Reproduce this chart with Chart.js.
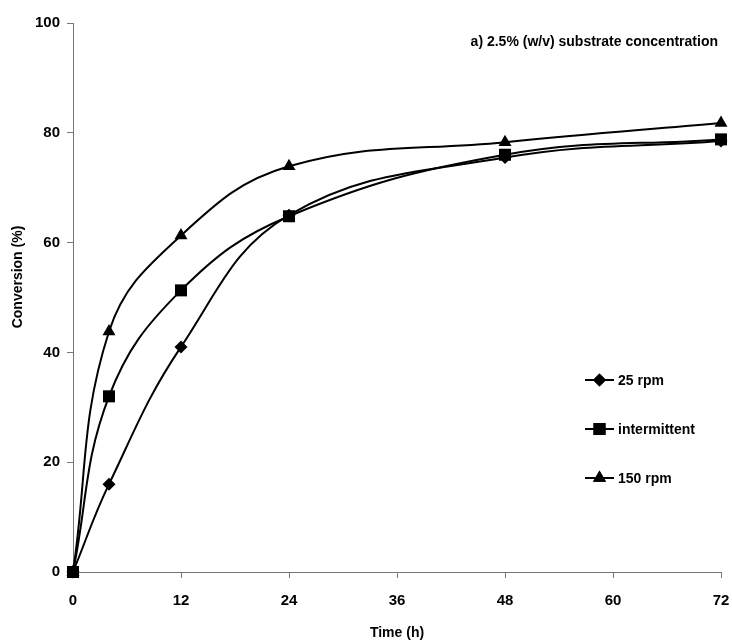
<!DOCTYPE html>
<html>
<head>
<meta charset="utf-8">
<script src="https://cdn.jsdelivr.net/npm/chart.js@4/dist/chart.umd.min.js"></script>
<style>
  html, body { margin: 0; padding: 0; background: #fff; }
  #wrap { width: 732px; height: 644px; }
</style>
</head>
<body>
<div id="wrap"><canvas id="grafico" width="732" height="644"></canvas></div>
<script>
// datos
const tiempoH = [0, 4, 12, 24, 48, 72];
const rpm25 = [0, 16, 41, 65, 75.5, 78.5];
const intermitente = [0, 32, 51.3, 64.8, 76, 78.8];
const rpm150 = [0, 43.8, 61.3, 73.9, 78.3, 81.8];
const etiquetasSeries = ["25 rpm", "intermittent", "150 rpm"];
const ticksX = [0, 12, 24, 36, 48, 60, 72];
const ticksY = [0, 20, 40, 60, 80, 100];
const titulo = "a) 2.5% (w/v) substrate concentration";

const fuente = "'Liberation Sans', Arial, sans-serif";

function puntos(valores) {
    return tiempoH.map((t, i) => ({ x: t, y: valores[i] }));
}

function serie(label, valores, estilo, radio, orden) {
    return {
        label,
        data: puntos(valores),
        order: orden,
        clip: false,
        borderColor: "#000",
        backgroundColor: "#000",
        borderWidth: 2,
        pointStyle: estilo,
        pointRadius: radio,
        pointBackgroundColor: "#000",
        pointBorderColor: "#000",
        pointBorderWidth: 0,
        tension: 0.4,
        fill: false,
    };
}

// leyenda y título dibujados dentro del área
const textosExtra = {
    id: "textosExtra",
    afterDraw(chart) {
        const ctx = chart.ctx;
        const area = chart.chartArea;
        ctx.save();
        ctx.fillStyle = "#000";
        ctx.font = "bold 14px " + fuente;
        ctx.textAlign = "right";
        ctx.textBaseline = "middle";
        ctx.fillText(titulo, 718, area.top + 19);

        // título del eje Y
        ctx.save();
        ctx.translate(18, 277);
        ctx.rotate(-Math.PI / 2);
        ctx.textAlign = "center";
        ctx.font = "bold 14px " + fuente;
        ctx.fillText("Conversion (%)", 0, 0);
        ctx.restore();

        const ys = [380, 429, 478];
        etiquetasSeries.forEach((nombre, i) => {
            const ds = chart.data.datasets.find((d) => d.label === nombre);
            const y = ys[i];
            ctx.strokeStyle = "#000";
            ctx.lineWidth = 2;
            ctx.beginPath();
            ctx.moveTo(585, y);
            ctx.lineTo(614, y);
            ctx.stroke();
            Chart.helpers.drawPoint(ctx, {
                pointStyle: ds.pointStyle,
                radius: ds.pointRadius,
                rotation: 0,
                borderWidth: 0,
            }, 599.5, y);
            ctx.fill();
            ctx.textAlign = "left";
            ctx.font = "bold 14px " + fuente;
            ctx.fillText(nombre, 618, y + 1);
        });
        ctx.restore();
    },
};

const ctx = document.getElementById("grafico").getContext("2d");

new Chart(ctx, {
    type: "line",
    data: {
        datasets: [
            serie(etiquetasSeries[0], rpm25, "rectRot", 6.5, 2),
            serie(etiquetasSeries[1], intermitente, "rect", 8.5, 0),
            serie(etiquetasSeries[2], rpm150, "triangle", 7.5, 1),
        ],
    },
    options: {
        responsive: false,
        animation: false,
        layout: { padding: { top: 23, right: 11, left: 0, bottom: 0 } },
        plugins: {
            legend: { display: false },
            tooltip: { enabled: false },
        },
        scales: {
            x: {
                type: "linear",
                min: 0,
                max: 72,
                afterFit: (s) => { s.height = 72; s.paddingRight = 0; s.paddingLeft = 0; },
                afterBuildTicks: (s) => { s.ticks = ticksX.map((v) => ({ value: v })); },
                grid: { drawOnChartArea: false, drawTicks: true, tickLength: 6, color: "#777" },
                border: { color: "#777", width: 1 },
                ticks: {
                    color: "#000",
                    padding: 14,
                    maxRotation: 0,
                    font: { family: fuente, size: 15, weight: "bold" },
                },
                title: {
                    display: true,
                    text: "Time (h)",
                    color: "#000",
                    padding: { bottom: 2, top: 0 },
                    font: { family: fuente, size: 14, weight: "bold" },
                },
            },
            y: {
                min: 0,
                max: 100,
                afterFit: (s) => { s.width = 73; },
                afterBuildTicks: (s) => { s.ticks = ticksY.map((v) => ({ value: v })); },
                grid: { drawOnChartArea: false, drawTicks: true, tickLength: 6, color: "#777" },
                border: { color: "#777", width: 1 },
                ticks: {
                    color: "#000",
                    padding: 7,
                    font: { family: fuente, size: 15, weight: "bold" },
                },
            },
        },
    },
    plugins: [textosExtra],
});
</script>
</body>
</html>
